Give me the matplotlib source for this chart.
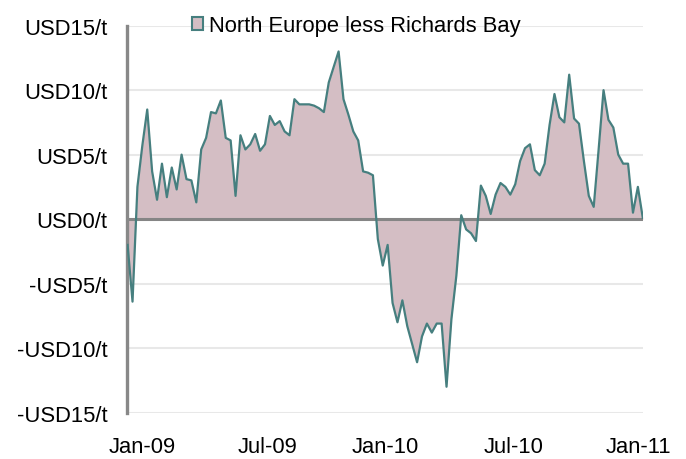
import numpy as np
import pandas as pd
import matplotlib
matplotlib.use("Agg")
import matplotlib.pyplot as plt
from matplotlib.patches import Patch
from matplotlib.transforms import ScaledTranslation

# weekly spread, USD/t
spread = [
    -2.0, -6.4, 2.5, 5.7, 8.5, 3.7, 1.5, 4.3, 1.7, 4.0,
    2.3, 5.0, 3.1, 3.0, 1.3, 5.4, 6.3, 8.3, 8.2, 9.2,
    6.3, 6.1, 1.8, 6.5, 5.4, 5.8, 6.6, 5.3, 5.8, 8.0,
    7.3, 7.6, 6.8, 6.5, 9.3, 8.9, 8.9, 8.9, 8.8, 8.6,
    8.3, 10.6, 11.8, 13.0, 9.3, 8.1, 6.8, 6.1, 3.7, 3.6,
    3.4, -1.55, -3.6, -2.0, -6.5, -8.0, -6.3, -8.3, -9.7, -11.1,
    -9.1, -8.1, -8.8, -8.1, -8.1, -13.0, -7.75, -4.4, 0.3, -0.8,
    -1.1, -1.7, 2.6, 1.8, 0.4, 1.9, 2.8, 2.5, 1.9, 2.7,
    4.5, 5.5, 5.8, 3.8, 3.4, 4.3, 7.3, 9.7, 7.9, 7.5,
    11.2, 7.8, 7.4, 4.5, 1.8, 0.95, 5.4, 10.0, 7.7, 7.1,
    5.0, 4.3, 4.3, 0.5, 2.5, 0.1,
]
dates = pd.date_range("2009-01-02", periods=len(spread), freq="7D")

y_ticks = [15, 10, 5, 0, -5, -10, -15]
y_labels = ["USD15/t", "USD10/t", "USD5/t", "USD0/t", "-USD5/t", "-USD10/t", "-USD15/t"]
x_ticks = pd.to_datetime(["2009-01-01", "2009-07-01", "2010-01-01", "2010-07-01", "2011-01-01"])
x_labels = ["Jan-09", "Jul-09", "Jan-10", "Jul-10", "Jan-11"]
series_name = "North Europe less Richards Bay"

fill_col = "#d4bec4"
line_col = "#467f7f"

plt.rcParams["font.family"] = ["Liberation Sans", "DejaVu Sans"]

fig = plt.figure(figsize=(6.86, 4.6), dpi=100)
ax = fig.add_axes([0.185, 0.101, 0.752, 0.841])

ax.fill_between(dates, spread, 0, color=fill_col, linewidth=0, zorder=2)
ax.axhline(0, color="#858585", linewidth=2.2, zorder=2.5)
ax.plot(dates, spread, color=line_col, linewidth=1.6, zorder=3)

ax.set_ylim(-15, 15)
ax.set_xlim(pd.Timestamp("2009-01-01"), dates[-1])
ax.set_yticks(y_ticks)
ax.set_yticklabels(y_labels)
ax.set_xticks(x_ticks)
ax.set_xticklabels(x_labels)
ax.yaxis.grid(True, color="#e8e8e8", linewidth=1.5, zorder=0)
ax.set_axisbelow(True)

for s in ["top", "right", "bottom"]:
    ax.spines[s].set_visible(False)
ax.spines["left"].set_color("#888888")
ax.spines["left"].set_linewidth(2.4)

ax.tick_params(axis="both", length=0, labelsize=15.8, colors="black")
ax.tick_params(axis="y", pad=14)
ax.tick_params(axis="x", pad=17)

# date labels are nudged the way the original spreadsheet placed them (pixels)
nudges = [15, 14, 3, 4, 0]
for lab, dx in zip(ax.get_xticklabels(), nudges):
    lab.set_transform(lab.get_transform() + ScaledTranslation(dx / 100, 0, fig.dpi_scale_trans))

handle = Patch(facecolor=fill_col, edgecolor=line_col, linewidth=1.5)
ax.legend([handle], [series_name], loc="center", bbox_to_anchor=(0.445, 1.0),
          frameon=False, fontsize=15.8, handlelength=0.5, handleheight=0.5,
          handletextpad=0.25, borderaxespad=0)

fig.savefig("out.png", dpi=100)
plt.close(fig)
